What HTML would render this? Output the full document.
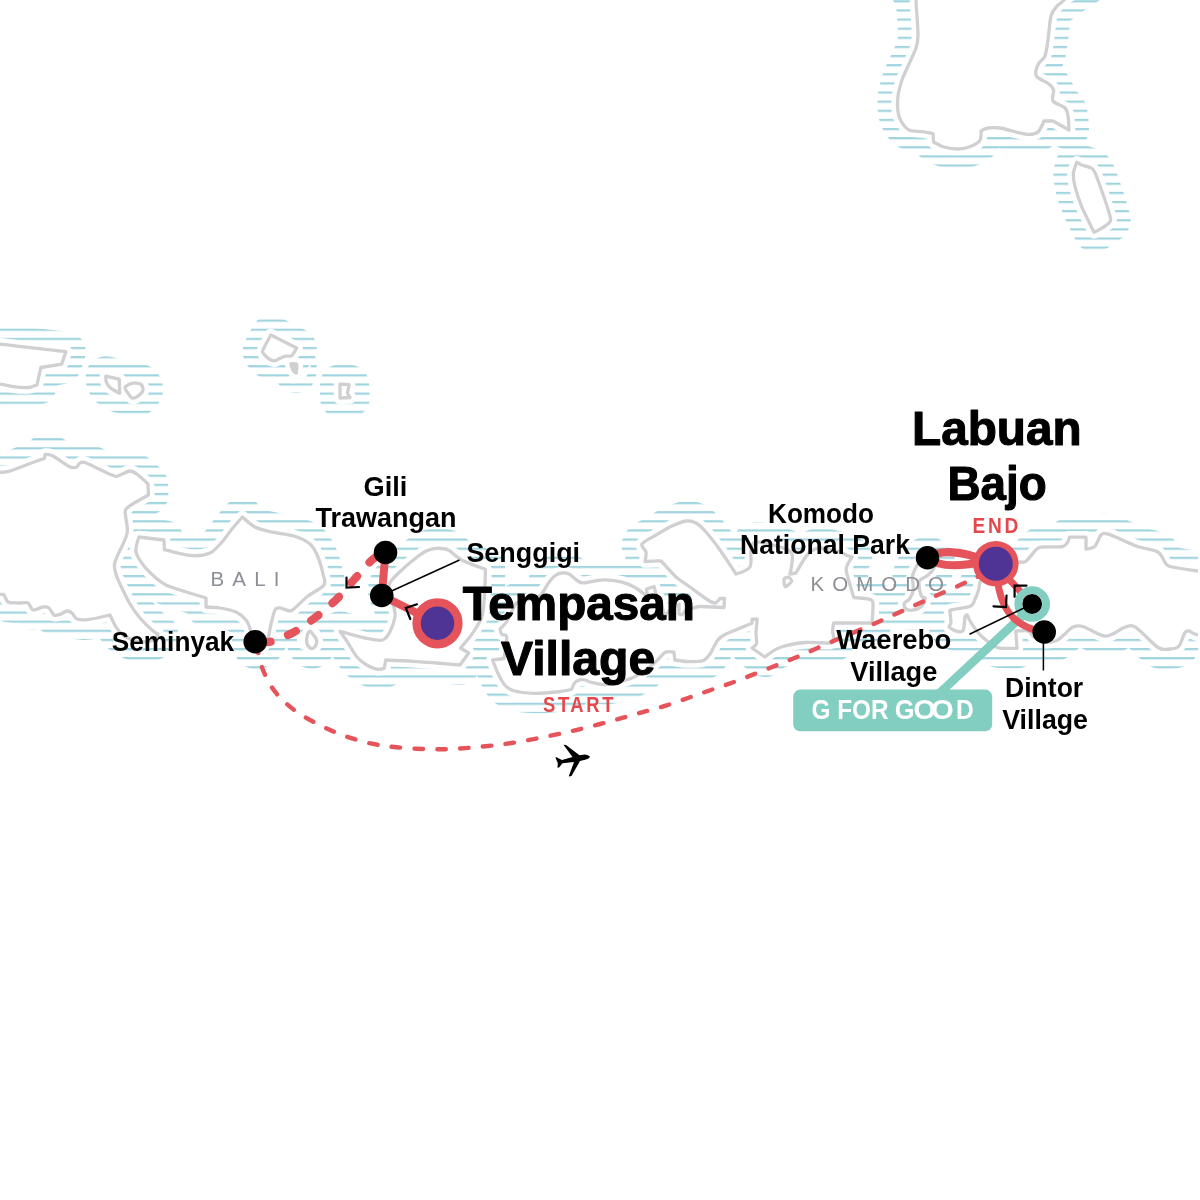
<!DOCTYPE html>
<html lang="en">
<head>
<meta charset="utf-8">
<title>Route map: Tempasan Village to Labuan Bajo</title>
<style>
html,body{margin:0;padding:0;background:#fff;}
body{width:1200px;height:1200px;overflow:hidden;}
svg{display:block;will-change:transform;}
text{font-family:"Liberation Sans",sans-serif;}
.big{font-weight:bold;font-size:49px;fill:#000;stroke:#000;stroke-width:1.1px;stroke-linejoin:round;}
.med{font-weight:bold;font-size:27.6px;fill:#000;}
.tag{font-weight:bold;font-size:21.2px;fill:#e4484c;letter-spacing:3px;}
.reg{font-weight:normal;font-size:20.5px;fill:#8d8f96;}
</style>
</head>
<body>
<svg width="1200" height="1200" viewBox="0 0 1200 1200">
<defs>
<pattern id="hatch" patternUnits="userSpaceOnUse" x="0" y="0.250" width="40" height="9.123">
<rect x="0" y="0" width="40" height="2.2" fill="#a0d4de"/>
</pattern>
<path id="l_sulawesi" d="M916.0,-30.0C889.9,-25.5 915.9,-6.9 916.0,0.0C916.1,6.9 916.7,10.6 917.0,16.0C917.3,21.4 918.1,31.2 918.0,36.0C917.9,40.8 917.4,43.8 916.0,48.0C914.6,52.2 911.1,59.2 909.0,64.0C906.9,68.8 903.6,75.2 902.0,80.0C900.4,84.8 898.6,91.2 898.0,96.0C897.4,100.8 897.5,108.2 898.0,112.0C898.5,115.8 899.4,118.3 901.0,121.0C902.6,123.7 905.9,128.4 909.0,130.0C912.1,131.6 918.4,131.1 922.0,131.6C925.6,132.1 933.0,133.6 933.0,133.6C933.0,133.6 933.6,142.0 933.6,142.0C933.6,142.0 940.3,145.9 944.0,147.0C947.7,148.1 954.2,149.0 958.0,149.0C961.8,149.0 965.8,148.2 969.0,147.0C972.2,145.8 977.8,143.4 979.6,141.0C981.4,138.6 981.0,131.0 981.0,131.0C981.0,131.0 985.1,128.4 988.0,128.0C990.9,127.5 995.8,127.4 1000.0,128.0C1004.2,128.6 1011.6,131.0 1016.0,132.0C1020.4,133.0 1025.7,134.4 1029.0,134.4C1032.3,134.4 1035.8,134.0 1038.0,132.0C1040.2,130.0 1044.0,121.0 1044.0,121.0C1044.0,121.0 1053.0,121.0 1053.0,121.0C1053.0,121.0 1069.0,130.0 1069.0,130.0C1069.0,130.0 1068.6,119.3 1068.0,116.0C1067.4,112.7 1067.2,110.2 1065.0,108.0C1062.8,105.8 1054.7,103.7 1053.0,101.0C1051.3,98.3 1054.2,92.5 1053.6,90.0C1053.0,87.5 1051.5,86.0 1049.0,84.0C1046.5,82.0 1039.0,79.1 1037.0,77.0C1035.0,74.9 1035.7,72.1 1036.0,70.0C1036.3,67.9 1037.7,65.1 1039.0,63.0C1040.3,60.9 1043.7,59.5 1045.0,56.0C1046.3,52.5 1047.1,46.0 1048.0,40.0C1048.9,34.0 1049.7,21.1 1051.0,16.0C1052.3,10.9 1055.0,8.4 1057.0,6.0C1059.0,3.6 1059.0,5.4 1064.0,0.0C1069.0,-5.4 1112.2,-25.5 1090.0,-30.0C1067.8,-34.5 942.1,-34.5 916.0,-30.0Z"/>
<path id="l_selayar" d="M1076.7,162.3C1076.7,162.3 1080.5,164.5 1081.7,165.0C1082.9,165.5 1090.5,167.4 1091.7,168.3C1092.9,169.2 1095.2,172.6 1096.7,176.7C1098.2,180.8 1110.9,215.6 1110.7,220.0C1110.5,224.4 1094.0,232.3 1094.0,232.3C1094.0,232.3 1083.2,210.3 1081.7,206.7C1080.2,203.1 1075.7,189.4 1075.0,186.7C1074.3,184.0 1073.2,175.3 1073.3,173.3C1073.4,171.3 1076.7,162.3 1076.7,162.3Z"/>
<path id="l_madura" d="M-30.0,344.0C-27.6,340.8 -4.1,344.0 0.0,344.2C4.1,344.4 16.4,346.1 21.7,346.7C27.0,347.3 65.8,351.7 65.8,351.7C65.8,351.7 61.7,364.2 61.7,364.2C61.7,364.2 40.8,367.5 40.8,367.5C40.8,367.5 37.0,385.0 37.0,385.0C37.0,385.0 30.2,387.4 28.3,387.5C26.4,387.6 15.6,387.0 13.3,386.7C11.0,386.4 3.5,384.4 0.0,384.2C-3.5,384.0 -27.6,387.2 -30.0,384.0C-32.4,380.8 -32.4,347.2 -30.0,344.0Z"/>
<path id="l_isl1" d="M105.8,376.2C105.8,376.2 119.2,379.2 119.2,379.2C119.2,379.2 119.7,393.3 119.7,393.3C119.7,393.3 111.3,388.7 110.0,387.5C108.7,386.3 106.6,382.8 106.2,381.7C105.8,380.6 105.8,376.2 105.8,376.2Z"/>
<path id="l_isl2" d="M125.0,387.5C125.6,386.2 129.5,383.8 131.7,383.3C133.9,382.8 139.2,383.3 140.8,384.2C142.4,385.1 143.3,388.4 143.0,390.0C142.7,391.6 139.8,394.7 138.3,395.8C136.8,396.9 133.7,398.5 132.2,398.0C130.7,397.5 128.5,394.0 127.5,392.5C126.5,391.0 124.4,388.8 125.0,387.5Z"/>
<path id="l_islA" d="M270.8,335.0C270.8,335.0 296.7,348.0 296.7,348.0C296.7,348.0 292.7,355.1 291.7,355.8C290.7,356.5 285.5,355.9 284.2,356.3C282.9,356.7 276.2,360.6 275.0,360.8C273.8,361.0 270.2,359.9 269.2,359.2C268.2,358.5 262.4,353.6 262.5,351.7C262.6,349.8 270.8,335.0 270.8,335.0Z"/>
<path id="l_islB" d="M290.8,363.7C291.0,363.4 296.4,363.7 296.7,364.2C297.0,364.7 296.5,372.7 296.3,373.0C296.1,373.3 293.6,371.3 293.3,370.8C293.0,370.3 290.6,364.0 290.8,363.7Z"/>
<path id="l_islC" d="M340.0,384.2C340.0,384.2 349.2,384.7 349.2,384.7C349.2,384.7 347.5,392.7 347.5,393.3C347.5,393.9 350.0,397.5 350.0,397.5C350.0,397.5 340.0,398.0 340.0,398.0C340.0,398.0 340.0,384.2 340.0,384.2Z"/>
<path id="l_java" d="M-30.0,472.0C-25.5,453.8 -6.0,472.5 0.0,472.4C6.0,472.2 6.1,472.1 10.0,471.0C13.9,469.9 20.8,466.9 26.0,465.0C31.2,463.1 44.4,458.4 44.4,458.4C44.4,458.4 45.0,454.4 45.0,454.4C45.0,454.4 49.4,454.2 53.0,456.0C56.6,457.8 65.5,464.7 69.0,466.4C72.5,468.1 74.3,467.9 76.0,467.4C77.7,466.9 78.5,463.7 80.0,463.0C81.5,462.3 81.2,461.2 86.0,463.0C90.8,464.8 107.2,473.1 112.0,475.0C116.8,476.9 115.3,476.6 118.0,476.0C120.7,475.4 127.0,471.1 130.0,471.0C133.0,470.9 135.3,473.1 138.0,475.0C140.7,476.9 148.0,484.0 148.0,484.0C148.0,484.0 148.4,495.0 148.4,495.0C148.4,495.0 130.4,504.9 127.0,508.0C123.6,511.1 125.6,512.1 125.6,516.0C125.6,519.9 128.6,527.1 127.0,534.0C125.4,540.9 116.7,556.0 115.0,562.0C113.3,568.0 115.2,570.7 116.0,574.0C116.8,577.3 117.9,579.5 120.0,584.0C122.1,588.5 127.0,598.9 130.0,604.0C133.0,609.1 136.7,614.1 140.0,618.0C143.3,621.9 149.3,627.6 152.0,630.0C154.7,632.4 158.0,634.0 158.0,634.0C158.0,634.0 156.7,638.8 154.0,640.0C151.3,641.2 143.6,642.1 140.0,642.0C136.4,641.9 132.7,640.2 130.0,639.0C127.3,637.8 124.1,635.8 122.0,634.0C119.9,632.2 117.8,629.9 116.0,627.0C114.2,624.1 110.0,615.0 110.0,615.0C110.0,615.0 93.0,619.0 88.0,619.6C83.0,620.2 79.4,620.0 77.0,619.0C74.6,618.0 73.5,614.2 72.0,613.0C70.5,611.8 68.8,610.8 67.0,611.0C65.2,611.2 62.0,613.8 60.0,614.4C58.0,615.0 55.6,616.0 54.0,615.0C52.4,614.0 50.6,609.2 49.0,608.0C47.4,606.8 45.4,606.7 43.0,607.0C40.6,607.3 35.2,610.6 33.0,610.0C30.8,609.4 30.2,604.0 28.0,603.0C25.8,602.0 21.0,603.1 18.0,603.0C15.0,602.9 10.1,603.2 8.0,602.0C5.9,600.8 5.2,596.1 4.0,595.0C2.8,593.9 5.1,594.5 0.0,594.4C-5.1,594.2 -25.5,612.4 -30.0,594.0C-34.5,575.6 -34.5,490.2 -30.0,472.0Z"/>
<path id="l_bali" d="M139.0,537.0C139.0,537.0 164.0,540.0 164.0,540.0C164.0,540.0 164.4,549.6 164.4,549.6C164.4,549.6 185.2,555.1 192.0,555.6C198.8,556.1 205.5,555.0 210.0,553.0C214.5,551.0 218.7,545.6 222.0,542.0C225.3,538.4 228.9,532.8 232.0,529.0C235.1,525.2 242.4,517.0 242.4,517.0C242.4,517.0 251.3,525.3 256.0,527.6C260.7,529.9 268.3,531.1 274.0,532.4C279.7,533.7 288.6,534.3 294.0,536.0C299.4,537.7 306.4,540.9 310.0,544.0C313.6,547.1 316.1,552.5 318.0,557.0C319.9,561.5 322.1,569.8 323.0,574.0C323.9,578.2 326.2,581.7 324.0,585.0C321.8,588.3 312.2,592.7 308.0,596.0C303.8,599.3 298.7,604.8 296.0,607.0C293.3,609.2 292.4,610.9 290.0,611.0C287.6,611.1 282.2,608.1 280.0,608.0C277.8,607.9 276.4,607.6 275.0,610.0C273.6,612.4 272.1,619.8 271.0,624.0C269.9,628.2 269.4,634.5 268.0,638.0C266.6,641.5 264.1,645.5 262.0,647.0C259.9,648.5 255.7,650.5 254.0,648.0C252.3,645.5 251.6,634.2 250.4,630.0C249.2,625.8 248.2,622.7 246.0,620.0C243.8,617.3 239.9,613.8 236.0,612.0C232.1,610.2 224.5,608.8 220.0,608.0C215.5,607.2 206.0,607.0 206.0,607.0C206.0,607.0 206.0,598.0 206.0,598.0C206.0,598.0 186.0,592.0 180.0,590.0C174.0,588.0 169.6,586.8 166.0,585.0C162.4,583.2 159.3,580.9 156.0,578.0C152.7,575.1 147.0,569.9 144.0,566.0C141.0,562.1 136.8,556.4 136.0,552.0C135.2,547.6 139.0,537.0 139.0,537.0Z"/>
<path id="l_penida" d="M309.3,631.5C308.0,632.7 306.7,637.4 306.6,640.5C306.5,643.6 307.6,645.5 309.0,647.0C310.4,648.5 311.9,649.2 313.5,648.0C315.1,646.8 316.9,643.7 316.8,641.0C316.7,638.3 314.5,636.4 313.0,634.5C311.5,632.6 310.6,630.3 309.3,631.5Z"/>
<path id="l_lombok" d="M390.0,582.5C391.5,579.7 394.8,576.7 398.3,573.3C401.8,569.9 409.0,563.4 413.3,560.0C417.6,556.6 423.2,552.6 426.7,550.8C430.2,549.0 433.5,548.4 436.7,548.3C439.9,548.2 444.6,548.2 448.3,550.0C452.1,551.8 456.1,557.1 461.7,560.0C467.3,562.9 485.4,569.3 485.4,569.3C485.4,569.3 485.2,583.1 484.8,590.0C484.4,596.9 483.7,609.5 482.5,615.0C481.3,620.5 478.6,623.4 476.7,626.7C474.8,630.0 472.4,633.5 470.0,636.7C467.6,639.9 460.5,648.0 460.5,648.0C460.5,648.0 468.8,653.0 468.8,653.0C468.8,653.0 460.0,665.0 460.0,665.0C460.0,665.0 443.7,663.6 436.7,663.0C429.7,662.4 420.9,661.8 413.3,661.3C405.7,660.8 385.8,660.0 385.8,660.0C385.8,660.0 384.2,668.3 384.2,668.3C384.2,668.3 379.3,669.7 376.7,669.2C374.1,668.7 369.7,666.9 366.7,665.0C363.7,663.1 359.5,660.0 356.7,656.7C353.9,653.4 350.8,647.1 348.3,643.3C345.8,639.5 340.0,631.3 340.0,631.3C340.0,631.3 360.3,637.0 366.7,638.3C373.1,639.6 379.0,641.0 382.5,640.0C386.0,639.0 388.1,635.2 390.0,631.7C391.9,628.2 394.4,620.2 395.0,616.7C395.6,613.2 394.5,610.1 394.2,608.3C393.9,606.5 393.9,607.4 393.0,605.0C392.1,602.6 388.4,595.4 388.0,592.0C387.6,588.6 388.5,585.3 390.0,582.5Z"/>
<path id="l_sumbawa" d="M500.0,629.0C500.0,629.0 504.9,624.4 506.7,621.7C508.5,619.0 510.6,613.7 512.0,611.0C513.4,608.3 514.6,604.9 516.0,603.5C517.4,602.1 518.6,602.2 521.0,601.5C523.4,600.8 529.0,599.5 532.0,598.5C535.0,597.5 538.4,597.3 540.8,595.0C543.2,592.7 546.2,586.2 548.3,583.3C550.4,580.4 553.0,577.3 555.0,575.8C557.0,574.3 559.6,573.3 561.7,573.0C563.8,572.7 566.6,572.8 569.0,574.0C571.4,575.2 575.2,579.5 577.5,580.8C579.8,582.1 580.1,582.9 584.0,582.8C587.9,582.6 597.6,579.9 603.3,579.8C609.0,579.7 617.1,581.0 622.0,582.2C626.9,583.4 632.7,586.2 636.0,588.0C639.3,589.8 642.4,593.2 644.0,594.0C645.6,594.8 647.0,593.0 647.0,593.0C647.0,593.0 646.5,589.0 646.5,589.0C646.5,589.0 654.0,586.5 654.0,586.5C654.0,586.5 656.0,594.0 656.0,594.0C656.0,594.0 659.0,597.6 660.0,600.0C661.0,602.4 662.4,607.4 663.0,610.0C663.6,612.6 663.2,617.2 664.0,617.5C664.8,617.8 665.8,614.0 668.0,612.0C670.2,610.0 679.0,604.0 679.0,604.0C679.0,604.0 679.0,614.0 679.0,614.0C679.0,614.0 681.5,615.1 682.5,614.5C683.5,613.9 684.4,611.0 686.0,610.0C687.6,609.0 691.4,608.5 693.5,608.0C695.6,607.5 696.9,606.6 700.0,606.5C703.1,606.4 710.4,606.9 714.0,607.0C717.6,607.1 724.0,607.5 724.0,607.5C724.0,607.5 724.5,598.5 724.5,598.5C724.5,598.5 720.0,598.5 720.0,598.5C720.0,598.5 716.8,602.8 715.0,603.0C713.2,603.2 711.8,602.4 708.0,600.0C704.2,597.6 694.8,590.5 690.0,587.0C685.2,583.5 680.0,580.6 676.0,577.0C672.0,573.4 665.4,565.4 663.0,563.0C660.6,560.6 662.7,561.2 660.0,561.0C657.3,560.8 645.0,561.5 645.0,561.5C645.0,561.5 646.5,554.6 646.0,552.0C645.5,549.4 640.5,546.5 642.0,544.0C643.5,541.5 651.5,537.7 656.0,535.0C660.5,532.3 667.5,528.1 672.0,526.0C676.5,523.9 682.4,521.5 686.0,521.0C689.6,520.5 693.0,521.4 696.0,523.0C699.0,524.6 702.4,528.0 706.0,532.0C709.6,536.0 715.5,543.7 720.0,550.0C724.5,556.3 736.0,574.0 736.0,574.0C736.0,574.0 747.8,570.6 750.0,567.0C752.2,563.4 750.1,553.8 751.0,550.0C751.9,546.2 751.6,542.5 756.0,542.0C760.4,541.5 774.6,545.2 780.0,547.0C785.4,548.8 790.5,550.0 792.0,554.0C793.5,558.0 790.0,574.0 790.0,574.0C790.0,574.0 796.0,573.0 796.0,573.0C796.0,573.0 804.4,557.8 808.0,554.0C811.6,550.2 815.2,548.3 820.0,548.0C824.8,547.7 836.1,551.0 840.0,552.0C843.9,553.0 844.2,554.2 846.0,555.0C847.8,555.8 852.0,557.0 852.0,557.0C852.0,557.0 846.6,564.9 846.2,568.8C845.9,572.6 848.4,578.7 849.5,583.0C850.6,587.3 853.8,597.5 853.8,597.5C853.8,597.5 867.1,598.4 870.0,599.4C872.9,600.4 872.7,600.5 873.0,604.0C873.3,607.5 872.0,623.0 872.0,623.0C872.0,623.0 833.8,623.0 833.8,623.0C833.8,623.0 832.5,628.5 832.5,631.0C832.5,633.5 834.4,638.2 834.0,640.0C833.6,641.8 834.4,642.6 830.0,643.0C825.6,643.4 812.5,641.8 805.0,642.5C797.5,643.2 786.0,645.3 780.0,647.5C774.0,649.7 764.8,657.0 764.8,657.0C764.8,657.0 752.0,648.0 752.0,648.0C752.0,648.0 755.9,645.8 756.5,643.5C757.1,641.2 755.9,636.6 756.0,633.0C756.1,629.4 757.2,619.2 757.2,619.2C757.2,619.2 752.0,619.2 752.0,619.2C752.0,619.2 752.0,623.2 752.0,623.2C752.0,623.2 730.2,631.9 725.0,634.5C719.8,637.1 719.8,637.6 717.5,640.5C715.2,643.4 712.2,651.0 710.0,654.0C707.8,657.0 705.9,659.6 702.5,660.8C699.1,661.9 691.7,661.6 687.5,661.5C683.3,661.4 674.8,660.0 674.8,660.0C674.8,660.0 674.0,652.2 674.0,652.2C674.0,652.2 667.9,650.9 665.0,652.5C662.1,654.1 659.0,659.4 654.5,663.0C650.0,666.6 640.2,673.7 635.0,676.5C629.8,679.3 624.5,680.5 620.0,681.8C615.5,683.0 609.2,684.4 605.0,684.5C600.8,684.6 595.0,683.2 592.0,682.5C589.0,681.8 586.5,680.4 584.7,680.0C582.9,679.6 581.5,679.4 580.0,679.8C578.5,680.2 576.3,681.0 575.0,682.5C573.7,684.0 571.5,689.5 571.5,689.5C571.5,689.5 562.4,691.4 556.7,692.0C551.0,692.6 539.6,693.4 533.3,693.3C527.0,693.1 518.9,692.1 514.7,691.0C510.5,689.9 507.8,688.2 505.3,685.7C502.8,683.2 500.2,677.9 498.3,674.0C496.4,670.1 492.5,660.0 492.5,660.0C492.5,660.0 504.0,658.5 504.0,658.5C504.0,658.5 505.6,648.4 506.0,645.0C506.4,641.6 507.1,637.6 506.5,636.0C505.9,634.4 502.8,635.3 501.8,634.3C500.8,633.2 500.0,629.0 500.0,629.0Z"/>
<path id="l_tiny" d="M784.0,579.0C784.4,577.9 787.7,577.0 788.6,577.3C789.5,577.6 792.1,580.2 791.7,581.3C791.3,582.4 786.3,587.1 785.4,586.8C784.5,586.5 783.6,580.1 784.0,579.0Z"/>
<path id="l_komodo" d="M921.0,560.0C919.1,561.8 916.8,565.8 915.5,568.2C914.2,570.7 912.8,573.2 912.5,576.5C912.2,579.8 913.7,586.6 913.2,590.0C912.8,593.4 910.9,597.0 909.5,599.0C908.1,601.0 904.8,602.0 904.2,603.5C903.7,605.0 904.5,607.7 905.8,608.8C907.0,609.8 910.4,610.4 912.5,610.2C914.6,610.1 918.3,608.6 920.0,607.5C921.7,606.4 923.2,604.4 924.0,603.0C924.8,601.6 925.5,598.0 925.5,598.0C925.5,598.0 922.5,598.0 921.5,596.0C920.5,594.0 919.2,587.4 919.0,585.0C918.8,582.6 918.7,581.4 920.0,580.0C921.3,578.6 925.5,577.1 927.5,575.5C929.5,573.9 932.4,571.0 933.5,569.0C934.6,567.0 935.8,564.0 935.0,562.0C934.2,560.0 930.1,556.3 928.0,556.0C925.9,555.7 922.9,558.2 921.0,560.0Z"/>
<path id="l_flores" d="M980.0,582.5C981.1,579.8 983.9,575.1 986.0,572.0C988.1,568.9 989.0,563.5 994.0,562.0C999.0,560.5 1014.2,562.1 1019.0,562.0C1023.8,561.9 1023.4,563.2 1026.0,561.2C1028.6,559.3 1034.0,551.4 1036.5,549.2C1039.0,547.1 1038.5,547.5 1042.5,547.0C1046.5,546.5 1059.5,547.7 1063.5,546.2C1067.5,544.8 1069.5,537.2 1069.5,537.2C1069.5,537.2 1086.0,537.2 1086.0,537.2C1086.0,537.2 1086.0,549.2 1086.0,549.2C1086.0,549.2 1092.8,548.4 1095.0,546.2C1097.2,544.1 1099.0,536.8 1101.0,535.0C1103.0,533.2 1103.1,532.6 1108.5,534.2C1113.9,535.9 1129.6,543.5 1137.0,546.2C1144.4,549.0 1153.5,549.4 1158.0,552.2C1162.5,555.1 1164.1,562.6 1167.0,565.0C1169.9,567.4 1172.8,567.1 1177.5,568.0C1182.2,568.9 1188.6,569.8 1198.0,571.0C1207.4,572.2 1233.7,565.6 1240.0,576.0C1246.3,586.4 1246.3,631.2 1240.0,640.0C1233.7,648.8 1205.6,636.1 1198.0,634.8C1190.4,633.4 1191.5,631.3 1189.5,631.0C1187.5,630.7 1186.6,630.2 1185.0,632.5C1183.4,634.8 1181.2,643.5 1179.0,646.0C1176.8,648.5 1173.2,648.8 1170.0,649.0C1166.8,649.2 1163.2,650.8 1158.0,647.5C1152.8,644.2 1140.5,630.3 1135.5,627.2C1130.5,624.2 1129.5,625.9 1125.0,627.2C1120.5,628.6 1111.8,636.4 1105.5,636.2C1099.2,636.1 1088.0,627.9 1083.0,626.5C1078.0,625.1 1075.4,626.0 1072.5,627.2C1069.6,628.5 1066.2,633.0 1063.7,635.0C1061.2,637.0 1059.0,639.8 1056.0,640.8C1053.0,641.8 1047.3,642.6 1044.0,642.0C1040.7,641.4 1036.4,638.6 1034.0,637.0C1031.6,635.4 1030.7,631.9 1028.0,631.0C1025.3,630.1 1015.8,631.0 1015.8,631.0C1015.8,631.0 1017.0,648.3 1017.0,648.3C1017.0,648.3 1002.5,648.7 998.3,647.8C994.1,646.9 992.0,644.7 989.0,642.5C986.0,640.3 981.3,636.4 978.5,633.2C975.7,630.1 972.0,624.2 970.3,621.5C968.6,618.8 967.4,615.0 967.4,615.0C967.4,615.0 965.6,614.5 965.0,616.8C964.4,619.1 964.4,628.1 963.3,630.3C962.2,632.5 959.6,631.9 957.5,631.4C955.4,630.9 950.3,628.6 949.3,627.3C948.3,626.0 950.9,625.0 951.0,622.7C951.1,620.4 949.9,614.1 950.0,612.2C950.1,610.3 948.7,610.7 951.7,609.8C954.7,608.9 966.8,607.9 970.3,606.3C973.8,604.7 973.8,601.7 975.0,599.3C976.2,596.9 977.8,592.5 978.5,590.0C979.2,587.5 978.9,585.2 980.0,582.5Z"/>
<g id="lands">
<use href="#l_sulawesi"/>
<use href="#l_selayar"/>
<use href="#l_madura"/>
<use href="#l_isl1"/>
<use href="#l_isl2"/>
<use href="#l_islA"/>
<use href="#l_islB"/>
<use href="#l_islC"/>
<use href="#l_java"/>
<use href="#l_bali"/>
<use href="#l_penida"/>
<use href="#l_lombok"/>
<use href="#l_sumbawa"/>
<use href="#l_tiny"/>
<use href="#l_komodo"/>
<use href="#l_flores"/>
</g>
<mask id="halo" maskUnits="userSpaceOnUse" x="0" y="0" width="1200" height="1200">
<rect width="1200" height="1200" fill="#000"/>
<use href="#lands" fill="#fff" stroke="#fff" stroke-width="40" stroke-linejoin="round"/>
<use href="#lands" fill="#000" stroke="#000" stroke-width="12.5" stroke-linejoin="round"/>
</mask>
</defs>
<rect width="1200" height="1200" fill="#fff"/>
<rect width="1200" height="1200" fill="url(#hatch)" mask="url(#halo)"/>
<use href="#lands" fill="#fff" stroke="#d0d0d2" stroke-width="3.3" stroke-linejoin="round"/>
<use href="#l_islB" fill="#d0d0d2" stroke="#d0d0d2" stroke-width="2"/>

<!-- region names -->
<text class="reg" x="210.5" y="585.8" textLength="69" lengthAdjust="spacing">BALI</text>
<text class="reg" x="810.5" y="590.6" textLength="133.5" lengthAdjust="spacing">KOMODO</text>

<!-- flight -->
<path d="M256.7,643.3C257.5,647.2 258.7,658.7 261.7,666.7C264.7,674.7 269.2,684.2 275.0,691.7C280.8,699.2 287.6,705.3 296.7,711.7C305.8,718.1 318.9,725.0 330.0,730.0C341.1,735.0 352.2,738.8 363.3,741.7C374.4,744.6 384.5,746.0 396.7,747.3C408.9,748.6 424.5,749.2 436.7,749.3C448.9,749.4 457.3,748.8 470.0,747.7C482.7,746.6 497.8,745.1 513.3,742.7C528.8,740.3 548.9,736.1 563.3,733.0C577.7,729.9 588.4,727.0 600.0,724.0C611.6,721.0 622.2,717.9 633.3,714.8C644.4,711.7 655.6,708.8 666.7,705.3C677.8,701.8 688.9,697.5 700.0,693.7C711.1,689.9 722.2,686.3 733.3,682.2C744.4,678.1 755.6,673.6 766.7,669.2C777.8,664.8 788.9,660.5 800.0,655.8C811.1,651.1 822.2,645.8 833.3,641.0C844.4,636.2 855.6,631.8 866.7,627.0C877.8,622.2 888.9,617.0 900.0,612.0C911.1,607.0 922.2,602.0 933.3,597.0C944.4,592.0 958.1,586.0 966.7,582.0C975.3,578.0 982.0,574.5 985.0,573.0" fill="none" stroke="#e5545a" stroke-width="4.4" stroke-linecap="round" stroke-dasharray="8.5 14.34" stroke-dashoffset="-1.5"/>
<!-- ferry -->
<path d="M385.5,552.5C383.3,553.7 377.1,555.6 372.0,560.0C366.9,564.4 360.7,572.2 354.8,578.8C348.8,585.3 342.6,593.3 336.0,599.8C329.4,606.2 322.2,612.3 315.0,617.8C307.8,623.2 300.0,628.8 292.5,632.8C285.0,636.7 276.2,640.3 270.0,641.8C263.8,643.2 257.5,641.8 255.0,641.8" fill="none" stroke="#e5545a" stroke-width="8.2" stroke-linecap="round" stroke-dasharray="9 18.5" stroke-dashoffset="-10"/>

<!-- G for Good connector -->
<path d="M1035,604 L936,696.4" stroke="#82cec1" stroke-width="8.6" fill="none"/>
<rect x="793.2" y="689.6" width="199" height="41.6" rx="7" ry="7" fill="#82cec1"/>

<!-- overland routes -->
<g fill="none" stroke="#e5545a" stroke-linecap="round">
<path d="M385.5,552.5 L381.75,595.5 L437.5,623.3" stroke-width="8" stroke-linejoin="round"/>
<path d="M927.8,557.8 C940,549.5 962,550.5 985,560.5" stroke-width="8.2"/>
<path d="M927.8,557.8 C940,568 962,566.5 985,561" stroke-width="8.2"/>
<path d="M997.5,580 C1000,601 1008,626.5 1044,632" stroke-width="7"/>
<path d="M1006,576 L1032,604" stroke-width="7"/>
</g>

<!-- direction chevrons -->
<g fill="none" stroke="#000" stroke-width="2.2" stroke-linecap="round" stroke-linejoin="miter">
<path d="M346.5,577.5 L346.5,587.6 L359,587"/>
<path d="M417,604.3 L405.8,608 L410.3,619"/>
<path d="M993.5,606.3 L1006,607 L1006.5,595.5"/>
<path d="M1014.6,596.8 L1014.6,585.6 L1026.5,585.6"/>
</g>

<!-- stops -->
<circle cx="1032.2" cy="604" r="14" fill="none" stroke="#82cec1" stroke-width="7.6"/>
<circle cx="437.5" cy="623.3" r="20.9" fill="#4f3395" stroke="#e5545a" stroke-width="8.4"/>
<circle cx="995.8" cy="563.7" r="19.9" fill="#4f3395" stroke="#e5545a" stroke-width="5.8"/>
<g fill="#000">
<circle cx="385.5" cy="552.5" r="11.8"/>
<circle cx="381.75" cy="595.5" r="11.8"/>
<circle cx="255.2" cy="641.75" r="11.8"/>
<circle cx="927.5" cy="557.75" r="11.8"/>
<circle cx="1044.2" cy="632" r="11.8"/>
<circle cx="1032.2" cy="604" r="9.9"/>
</g>

<!-- leader lines -->
<g stroke="#000" stroke-width="1.5" fill="none">
<path d="M381.75,595.5 L459.5,560"/>
<path d="M1032.2,604 L969.5,634.3"/>
<path d="M1043.4,632 L1043.4,670.5"/>
</g>

<!-- plane -->
<path d="M590,756.5 L588,755.2 L585,754.5 L579.5,755.2 L566,745 L563.5,744.8 L572.5,757 L562,760 L556,757 L555.5,757.8 L557.8,763 L557.5,767.8 L559,767.5 L562.5,763.2 L574,762 L568.7,776.5 L571.5,776 L580,761 L586,759.5 L589,758.2 Z" fill="#000"/>

<rect x="1198" y="0" width="2" height="1200" fill="#fff"/>
<!-- labels -->
<text class="big"><tspan x="912" y="445.4" textLength="169.7" lengthAdjust="spacingAndGlyphs">Labuan</tspan> <tspan x="947.4" y="499.8" textLength="99.2" lengthAdjust="spacingAndGlyphs">Bajo</tspan></text>
<text class="tag"><tspan x="972.6" y="532.9" textLength="48.5" lengthAdjust="spacingAndGlyphs">END</tspan></text>
<text class="big"><tspan x="462.8" y="619.9" textLength="232.1" lengthAdjust="spacingAndGlyphs">Tempasan</tspan> <tspan x="501" y="675" textLength="154.3" lengthAdjust="spacingAndGlyphs">Village</tspan></text>
<text class="tag"><tspan x="543" y="711.8" textLength="73" lengthAdjust="spacingAndGlyphs">START</tspan></text>
<text class="med"><tspan x="363.5" y="496.3" textLength="43.8" lengthAdjust="spacingAndGlyphs">Gili</tspan> <tspan x="315.5" y="527.3" textLength="141" lengthAdjust="spacingAndGlyphs">Trawangan</tspan></text>
<text class="med"><tspan x="466.4" y="562" textLength="113.7" lengthAdjust="spacingAndGlyphs">Senggigi</tspan></text>
<text class="med"><tspan x="111.7" y="651.1" textLength="122.5" lengthAdjust="spacingAndGlyphs">Seminyak</tspan></text>
<text class="med"><tspan x="768" y="522.8" textLength="106" lengthAdjust="spacingAndGlyphs">Komodo</tspan> <tspan x="740" y="554.3" textLength="170" lengthAdjust="spacingAndGlyphs">National Park</tspan></text>
<text class="med"><tspan x="836.2" y="649" textLength="115" lengthAdjust="spacingAndGlyphs">Waerebo</tspan> <tspan x="850.3" y="681.2" textLength="87" lengthAdjust="spacingAndGlyphs">Village</tspan></text>
<text class="med"><tspan x="1005" y="696.8" textLength="78.2" lengthAdjust="spacingAndGlyphs">Dintor</tspan> <tspan x="1002.3" y="728.7" textLength="85.6" lengthAdjust="spacingAndGlyphs">Village</tspan></text>
<!-- G FOR GOOD -->
<text font-weight="bold" font-size="27.25px" fill="#fff"><tspan x="811.5" y="718.85" textLength="77" lengthAdjust="spacingAndGlyphs">G FOR</tspan> <tspan x="894.8" y="718.85" textLength="19.8" lengthAdjust="spacingAndGlyphs">G</tspan><tspan x="913.2" y="718.85" textLength="22.8" lengthAdjust="spacingAndGlyphs">O</tspan><tspan x="931" y="718.85" textLength="22.8" lengthAdjust="spacingAndGlyphs">O</tspan><tspan x="956" y="718.85" textLength="17.8" lengthAdjust="spacingAndGlyphs">D</tspan></text>
</svg>
</body>
</html>
